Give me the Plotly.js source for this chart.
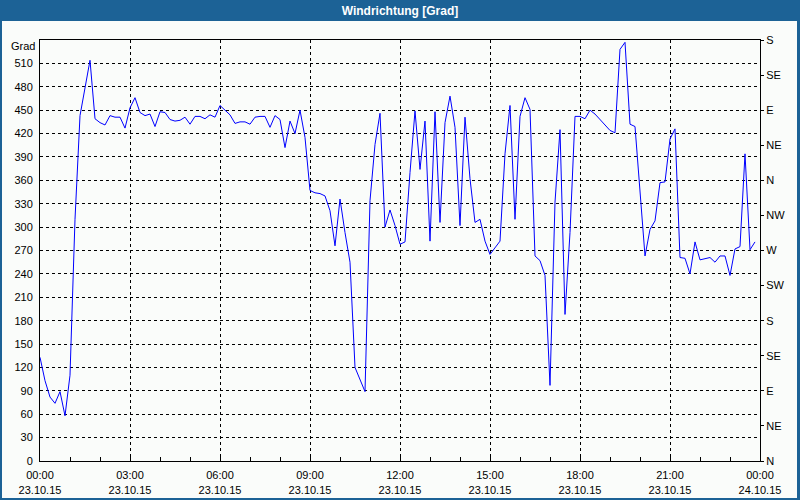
<!DOCTYPE html>
<html>
<head>
<meta charset="utf-8">
<script src="https://cdn.plot.ly/plotly-3.0.1.min.js"></script>
<style>
  html, body { margin: 0; padding: 0; background: #1c6296; }
  #chart { width: 800px; height: 500px; }
</style>
</head>
<body>
<div id="chart"></div>
<script>
// Wind direction [Grad], one reading every 10 minutes from 23.10.15 00:00
const startDate = '2015-10-23';
const stepMinutes = 10;
const windDir = [
  133, 103, 82, 74, 89, 58, 110, 310, 443, 478,
  514, 439, 434, 431, 443, 441, 441, 427, 453, 466,
  447, 443, 445, 429, 448, 447, 438, 436, 437, 441,
  432, 442, 442, 439, 444, 441, 456, 450, 444, 433,
  435, 435, 432, 441, 442, 442, 428, 443, 438, 402,
  436, 420, 450, 415, 347, 344, 343, 340, 321, 276,
  336, 293, 255, 120, 105, 89, 334, 406, 446, 300,
  322, 302, 278, 281, 370, 449, 374, 436, 282, 448,
  306, 434, 468, 428, 302, 441, 362, 306, 310, 282,
  265, 274, 282, 394, 456, 310, 442, 466, 451, 263,
  257, 238, 97, 332, 425, 188, 293, 442, 442, 439,
  450, 445, 438, 430, 424, 421, 528, 537, 432, 429,
  340, 263, 297, 308, 357, 358, 413, 426, 261, 260,
  240, 281, 258, 260, 261, 255, 263, 263, 238, 272,
  275, 394, 271, 281
];

const xTickVals = [
  '2015-10-23 00:00', '2015-10-23 03:00', '2015-10-23 06:00', '2015-10-23 09:00',
  '2015-10-23 12:00', '2015-10-23 15:00', '2015-10-23 18:00', '2015-10-23 21:00',
  '2015-10-24 00:00'
];
const xTickText = [
  '00:00<br>23.10.15', '03:00<br>23.10.15', '06:00<br>23.10.15', '09:00<br>23.10.15',
  '12:00<br>23.10.15', '15:00<br>23.10.15', '18:00<br>23.10.15', '21:00<br>23.10.15',
  '00:00<br>24.10.15'
];
const yTickVals = [0, 30, 60, 90, 120, 150, 180, 210, 240, 270, 300, 330, 360, 390, 420, 450, 480, 510];
const dirTickVals = [0, 45, 90, 135, 180, 225, 270, 315, 360, 405, 450, 495, 540];
const dirTickText = ['N', 'NE', 'E', 'SE', 'S', 'SW', 'W', 'NW', 'N', 'NE', 'E', 'SE', 'S'];

function pad(n) { return (n < 10 ? '0' : '') + n; }
const times = windDir.map(function (_, i) {
  const m = i * stepMinutes;
  return startDate + ' ' + pad(Math.floor(m / 60)) + ':' + pad(m % 60);
});

const tickFont = { family: 'Liberation Sans, Arial, sans-serif', size: 11, color: '#000' };

// pixel -> paper helpers (plot area: x 40..760, y 40..461)
function px(x) { return (x - 40) / 720; }
function py(y) { return (461 - y) / 421; }

const traces = [
  {
    x: times, y: windDir, type: 'scatter', mode: 'lines',
    line: { color: '#0000ff', width: 1 },
    hoverinfo: 'x+y', showlegend: false
  },
  {
    x: times, y: windDir, type: 'scatter', mode: 'lines', yaxis: 'y2',
    line: { color: 'rgba(0,0,0,0)', width: 1 }, opacity: 0,
    hoverinfo: 'skip', showlegend: false
  }
];

const layout = {
  width: 800, height: 500,
  margin: { l: 40, r: 40, t: 40, b: 39, pad: 0 },
  paper_bgcolor: '#1c6296',
  plot_bgcolor: 'rgba(0,0,0,0)',
  showlegend: false,
  title: {
    text: '<b>Windrichtung [Grad]</b>',
    font: { family: 'Liberation Sans, Arial, sans-serif', size: 12, color: '#ffffff' },
    x: 0.5, xanchor: 'center', xref: 'paper',
    y: 1 - 10.5 / 500, yanchor: 'middle', yref: 'container'
  },
  xaxis: {
    type: 'date',
    range: ['2015-10-23 00:00', '2015-10-24 00:00'],
    tickmode: 'array', tickvals: xTickVals, ticktext: xTickText,
    ticks: 'inside', ticklen: 4, tickcolor: '#000', tickwidth: 1,
    minor: { tickmode: 'linear', tick0: '2015-10-23 00:00', dtick: 3600000, ticks: 'inside', ticklen: 4, tickcolor: '#000', showgrid: false },
    showgrid: true, gridcolor: '#000', gridwidth: 1, griddash: '3px,3px',
    showline: true, linecolor: '#000', linewidth: 1, mirror: true,
    zeroline: false, tickfont: tickFont, ticklabelstandoff: 4,
    fixedrange: true
  },
  yaxis: {
    range: [0, 540],
    tickmode: 'array', tickvals: yTickVals,
    ticks: '', showgrid: true, gridcolor: '#000', gridwidth: 1, griddash: '3px,3px',
    showline: true, linecolor: '#000', linewidth: 1,
    zeroline: false, tickfont: tickFont, ticklabelstandoff: 4,
    fixedrange: true
  },
  yaxis2: {
    range: [0, 540], overlaying: 'y', side: 'right',
    tickmode: 'array', tickvals: dirTickVals, ticktext: dirTickText,
    ticks: 'outside', ticklen: 3, tickcolor: '#000',
    showgrid: false, showline: true, linecolor: '#000', linewidth: 1,
    zeroline: false, tickfont: tickFont, ticklabelstandoff: 0,
    fixedrange: true
  },
  shapes: [
    {
      type: 'rect', xref: 'paper', yref: 'paper', layer: 'below',
      x0: px(2), x1: px(797), y0: py(498), y1: py(21),
      fillcolor: '#fafcfa', line: { width: 0 }
    }
  ],
  annotations: [
    {
      text: 'Grad', xref: 'paper', yref: 'paper',
      x: px(37), xanchor: 'right', y: py(45.5), yanchor: 'middle',
      showarrow: false, font: tickFont
    }
  ]
};

Plotly.newPlot('chart', traces, layout, { displayModeBar: false, staticPlot: true });
</script>
</body>
</html>
